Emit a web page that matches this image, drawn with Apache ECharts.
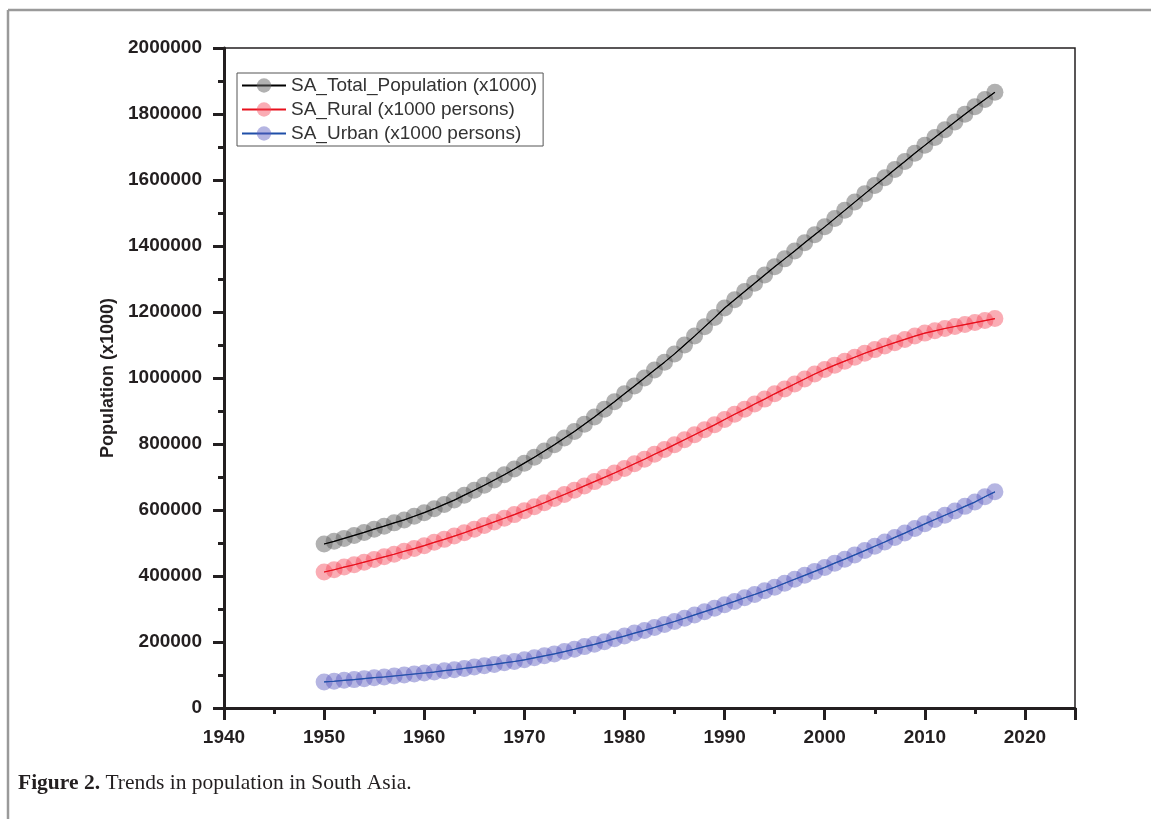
<!DOCTYPE html>
<html>
<head>
<meta charset="utf-8">
<title>Trends in population in South Asia</title>
<script src="https://cdn.jsdelivr.net/npm/echarts@6/dist/echarts.min.js"></script>
<style>
  html, body { margin: 0; padding: 0; background: #fff; }
  #chart { width: 1151px; height: 819px; }
</style>
</head>
<body>
<div id="chart"></div>
<script>
// years on the x axis
var years = [
  1950, 1951, 1952, 1953, 1954, 1955, 1956, 1957, 1958, 1959,
  1960, 1961, 1962, 1963, 1964, 1965, 1966, 1967, 1968, 1969,
  1970, 1971, 1972, 1973, 1974, 1975, 1976, 1977, 1978, 1979,
  1980, 1981, 1982, 1983, 1984, 1985, 1986, 1987, 1988, 1989,
  1990, 1991, 1992, 1993, 1994, 1995, 1996, 1997, 1998, 1999,
  2000, 2001, 2002, 2003, 2004, 2005, 2006, 2007, 2008, 2009,
  2010, 2011, 2012, 2013, 2014, 2015, 2016, 2017
];

// SA_Total_Population (x1000)
var totalPop = [
  497000, 505000, 514000, 523000, 532000, 542000, 551000, 561000, 570000, 581000,
  592000, 604000, 617000, 630000, 645000, 660000, 675000, 691000, 707000, 724000,
  742000, 760000, 779000, 798000, 818000, 838000, 860000, 882000, 905000, 928000,
  952000, 976000, 1000000, 1024000, 1048000, 1073000, 1100000, 1127000, 1155000, 1183000,
  1212000, 1237000, 1262000, 1287000, 1312000, 1337000, 1361000, 1385000, 1410000, 1434000,
  1458000, 1483000, 1508000, 1533000, 1558000, 1583000, 1607000, 1632000, 1656000, 1681000,
  1705000, 1729000, 1752000, 1776000, 1799000, 1822000, 1844000, 1866000
];

// SA_Rural (x1000 persons)
var ruralPop = [
  412000, 419000, 427000, 434000, 442000, 450000, 458000, 466000, 475000, 483000,
  492000, 502000, 511000, 521000, 531000, 542000, 553000, 564000, 575000, 586000,
  598000, 610000, 622000, 635000, 647000, 660000, 673000, 686000, 699000, 712000,
  726000, 740000, 754000, 769000, 783000, 798000, 813000, 828000, 843000, 858000,
  874000, 890000, 905000, 921000, 936000, 952000, 967000, 982000, 997000, 1012000,
  1026000, 1039000, 1051000, 1063000, 1075000, 1086000, 1097000, 1107000, 1117000, 1127000,
  1136000, 1143000, 1150000, 1156000, 1162000, 1168000, 1174000, 1180000
];

// SA_Urban (x1000 persons)
var urbanPop = [
  79000, 81000, 84000, 86000, 89000, 92000, 94000, 97000, 100000, 103000,
  106000, 109000, 113000, 116000, 120000, 124000, 128000, 132000, 137000, 141000,
  146000, 152000, 158000, 164000, 171000, 178000, 186000, 193000, 201000, 210000,
  218000, 227000, 235000, 244000, 253000, 262000, 272000, 282000, 292000, 302000,
  313000, 323000, 334000, 344000, 355000, 366000, 378000, 390000, 402000, 414000,
  426000, 439000, 451000, 464000, 477000, 490000, 503000, 517000, 530000, 544000,
  558000, 571000, 584000, 597000, 611000, 624000, 640000, 655000
];

var seriesNames = ['SA_Total_Population (x1000)', 'SA_Rural (x1000 persons)', 'SA_Urban (x1000 persons)'];

// pair years with values
var pairs = function (values) {
  return years.map(function (y, i) { return [y, values[i]]; });
};

var inkColor = '#231f20';
var fontFamily = '"Liberation Sans", Arial, sans-serif';

// one marker series + one thin line drawn on top of the markers
var buildSeries = function (name, values, markerColor, lineColor) {
  return [{
    name: name,
    type: 'line',
    data: pairs(values),
    symbol: 'circle',
    symbolSize: 17,
    showAllSymbol: true,
    itemStyle: { color: markerColor },
    lineStyle: { color: lineColor, width: 1 },
    z: 2,
    animation: false
  }, {
    name: name + ' line',
    type: 'line',
    data: pairs(values),
    showSymbol: false,
    silent: true,
    lineStyle: { color: lineColor, width: 1.2 },
    z: 3,
    animation: false
  }];
};

var chart = echarts.init(document.getElementById('chart'));

var option = {
  backgroundColor: '#fff',
  animation: false,
  grid: {
    left: 224,
    top: 48,
    width: 851,
    height: 660,
    show: true,
    borderColor: inkColor,
    borderWidth: 1.5,
    backgroundColor: 'transparent'
  },
  legend: {
    data: seriesNames,
    orient: 'vertical',
    left: 237,
    top: 73,
    padding: [3, 6, 3, 4],
    itemGap: 5,
    itemWidth: 44,
    itemHeight: 18,
    borderColor: '#555',
    borderWidth: 1,
    backgroundColor: '#fff',
    textStyle: { fontFamily: fontFamily, fontSize: 19, color: '#333', padding: [0, 0, 0, 0] }
  },
  xAxis: {
    type: 'value',
    min: 1940,
    max: 2025,
    interval: 10,
    axisLine: { show: true, onZero: false, lineStyle: { color: inkColor, width: 3 } },
    axisTick: { show: true, length: 12, lineStyle: { color: inkColor, width: 3 } },
    minorTick: { show: true, splitNumber: 2, length: 6, lineStyle: { color: inkColor, width: 3 } },
    splitLine: { show: false },
    axisLabel: {
      margin: 20,
      showMaxLabel: false,
      formatter: function (v) { return String(v); },
      fontFamily: fontFamily,
      fontSize: 19,
      fontWeight: 'bold',
      color: inkColor
    }
  },
  yAxis: {
    type: 'value',
    min: 0,
    max: 2000000,
    interval: 200000,
    name: 'Population (x1000)',
    nameLocation: 'middle',
    nameGap: 106,
    nameTextStyle: { fontFamily: fontFamily, fontSize: 18, fontWeight: 'bold', color: inkColor },
    axisLine: { show: true, onZero: false, lineStyle: { color: inkColor, width: 3 } },
    axisTick: { show: true, length: 11, lineStyle: { color: inkColor, width: 3 } },
    minorTick: { show: true, splitNumber: 2, length: 6, lineStyle: { color: inkColor, width: 3 } },
    splitLine: { show: false },
    axisLabel: {
      margin: 22,
      formatter: function (v) { return String(v); },
      fontFamily: fontFamily,
      fontSize: 19,
      fontWeight: 'bold',
      color: inkColor
    }
  },
  graphic: [
    // page frame, only top and left edges are visible
    { type: 'line', shape: { x1: 8, y1: 10, x2: 1151, y2: 10 }, style: { stroke: '#9a9a9a', lineWidth: 2.5 }, silent: true },
    { type: 'line', shape: { x1: 8, y1: 10, x2: 8, y2: 819 }, style: { stroke: '#9a9a9a', lineWidth: 2.5 }, silent: true },
    // caption
    {
      type: 'text',
      left: 18,
      top: 772,
      silent: true,
      style: {
        text: '{b|Figure 2.} Trends in population in South Asia.',
        font: '21.5px "Liberation Serif", "DejaVu Serif", serif',
        fill: '#231f20',
        rich: {
          b: { font: 'bold 21.5px "Liberation Serif", "DejaVu Serif", serif', fill: '#231f20' }
        }
      }
    }
  ],
  series: []
    .concat(buildSeries(seriesNames[0], totalPop, 'rgba(100,100,100,0.5)', '#000000'))
    .concat(buildSeries(seriesNames[1], ruralPop, 'rgba(244,70,88,0.45)', '#e8101c'))
    .concat(buildSeries(seriesNames[2], urbanPop, 'rgba(90,90,190,0.45)', '#1f4fa8'))
};

chart.setOption(option);
</script>
</body>
</html>
